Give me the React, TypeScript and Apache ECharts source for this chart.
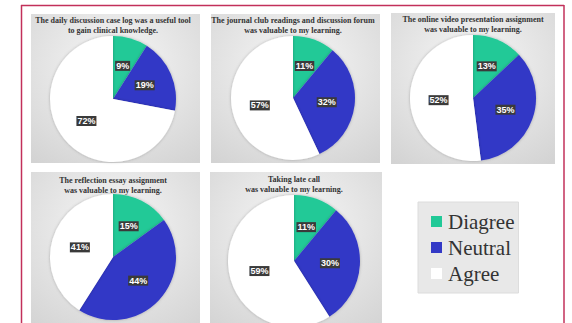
import React, { useEffect, useRef } from "react";
import * as echarts from "echarts";

const categories = ["Diagree", "Neutral", "Agree"];
const titles = [
  "The daily discussion case log was a useful tool\nto gain clinical knowledge.",
  "The journal club readings and discussion forum\nwas valuable to my learning.",
  "The online video presentation assignment\nwas valuable to my learning.",
  "The reflection essay assignment\nwas valuable to my learning.",
  "Taking late call\nwas valuable to my learning.",
];
const dailyLog = [9, 19, 72];
const journalClub = [11, 32, 57];
const onlineVideo = [13, 35, 52];
const reflectionEssay = [15, 44, 41];
const lateCall = [11, 30, 59];
const seriesValues = [dailyLog, journalClub, onlineVideo, reflectionEssay, lateCall];
const colors = ["#21c997", "#3339c6", "#ffffff"];

const panels = [
  { x: 31, y: 14, w: 169, h: 149, cx: 113, cy: 99, r: 63, ty: 16 },
  { x: 211, y: 14, w: 169, h: 149, cx: 293, cy: 98, r: 62, ty: 16 },
  { x: 391, y: 13, w: 164, h: 151, cx: 473, cy: 98, r: 63, ty: 15 },
  { x: 31, y: 172, w: 169, h: 160, cx: 113, cy: 257, r: 63, ty: 176 },
  { x: 210, y: 172, w: 172, h: 160, cx: 294, cy: 261, r: 66, ty: 175 },
];

export default function App() {
  const ref = useRef<HTMLDivElement>(null);
  useEffect(() => {
    const chart = echarts.init(ref.current!, null, { renderer: "svg" });
    const frameColor = "#c2305a";
    const graphic: any[] = [];
    panels.forEach((p) => {
      graphic.push({
        type: "rect",
        z: -10,
        shape: { x: p.x, y: p.y, width: p.w, height: p.h },
        style: {
          fill: new echarts.graphic.RadialGradient(0.5, 0.35, 0.8, [
            { offset: 0, color: "#f7f7f7" },
            { offset: 1, color: "#d3d3d3" },
          ]),
        },
      });
    });
    graphic.push(
      { type: "line", shape: { x1: 21.5, y1: 5, x2: 21.5, y2: 330 }, style: { stroke: frameColor, lineWidth: 1.5 } },
      { type: "line", shape: { x1: 21, y1: 5.5, x2: 564, y2: 5.5 }, style: { stroke: frameColor, lineWidth: 1.5 } },
      { type: "line", shape: { x1: 564, y1: 5, x2: 564, y2: 330 }, style: { stroke: frameColor, lineWidth: 1.5 } }
    );
    const title = panels.map((p, i) => ({
      text: titles[i],
      left: p.cx,
      top: p.ty,
      textAlign: "center",
      padding: 0,
      textStyle: {
        fontFamily: "Liberation Serif, Times New Roman, serif",
        fontSize: 8,
        fontWeight: "bold",
        color: "#333",
        lineHeight: 9.5,
      },
    }));
    const series = panels.map((p, i) => ({
      type: "pie",
      center: [p.cx, p.cy],
      radius: p.r,
      startAngle: 90,
      clockwise: true,
      label: {
        show: true,
        position: "inside",
        formatter: "{c}%",
        color: "#fff",
        fontFamily: "Arial, Liberation Sans, sans-serif",
        fontSize: 9,
        fontWeight: "bold",
        backgroundColor: "#3a3a3a",
        padding: [1, 1, 0, 1],
      },
      labelLine: { show: false },
      emphasis: { disabled: true },
      itemStyle: { borderWidth: 0, shadowBlur: 3, shadowColor: "rgba(0,0,0,0.25)" },
      data: categories.map((c, k) => ({
        name: c,
        value: seriesValues[i][k],
        itemStyle: { color: colors[k] },
      })),
    }));
    chart.setOption({
      animation: false,
      color: colors,
      graphic,
      title,
      legend: {
        orient: "vertical",
        left: 418,
        top: 202,
        width: 105,
        height: 95,
        padding: [9, 4, 9, 13],
        itemGap: 5,
        itemWidth: 11,
        itemHeight: 11,
        icon: "rect",
        backgroundColor: "#e8e8e8",
        borderColor: "#dcdcdc",
        borderWidth: 1,
        data: categories,
        selectedMode: false,
        textStyle: {
          fontFamily: "Liberation Serif, Times New Roman, serif",
          fontSize: 21,
          color: "#333",
          padding: [0, 0, 0, 1],
        },
      },
      series,
    });
    return () => chart.dispose();
  }, []);
  return (
    <div
      ref={ref}
      style={{ position: "absolute", left: 0, top: 0, width: 572, height: 323, background: "#fff" }}
    />
  );
}
